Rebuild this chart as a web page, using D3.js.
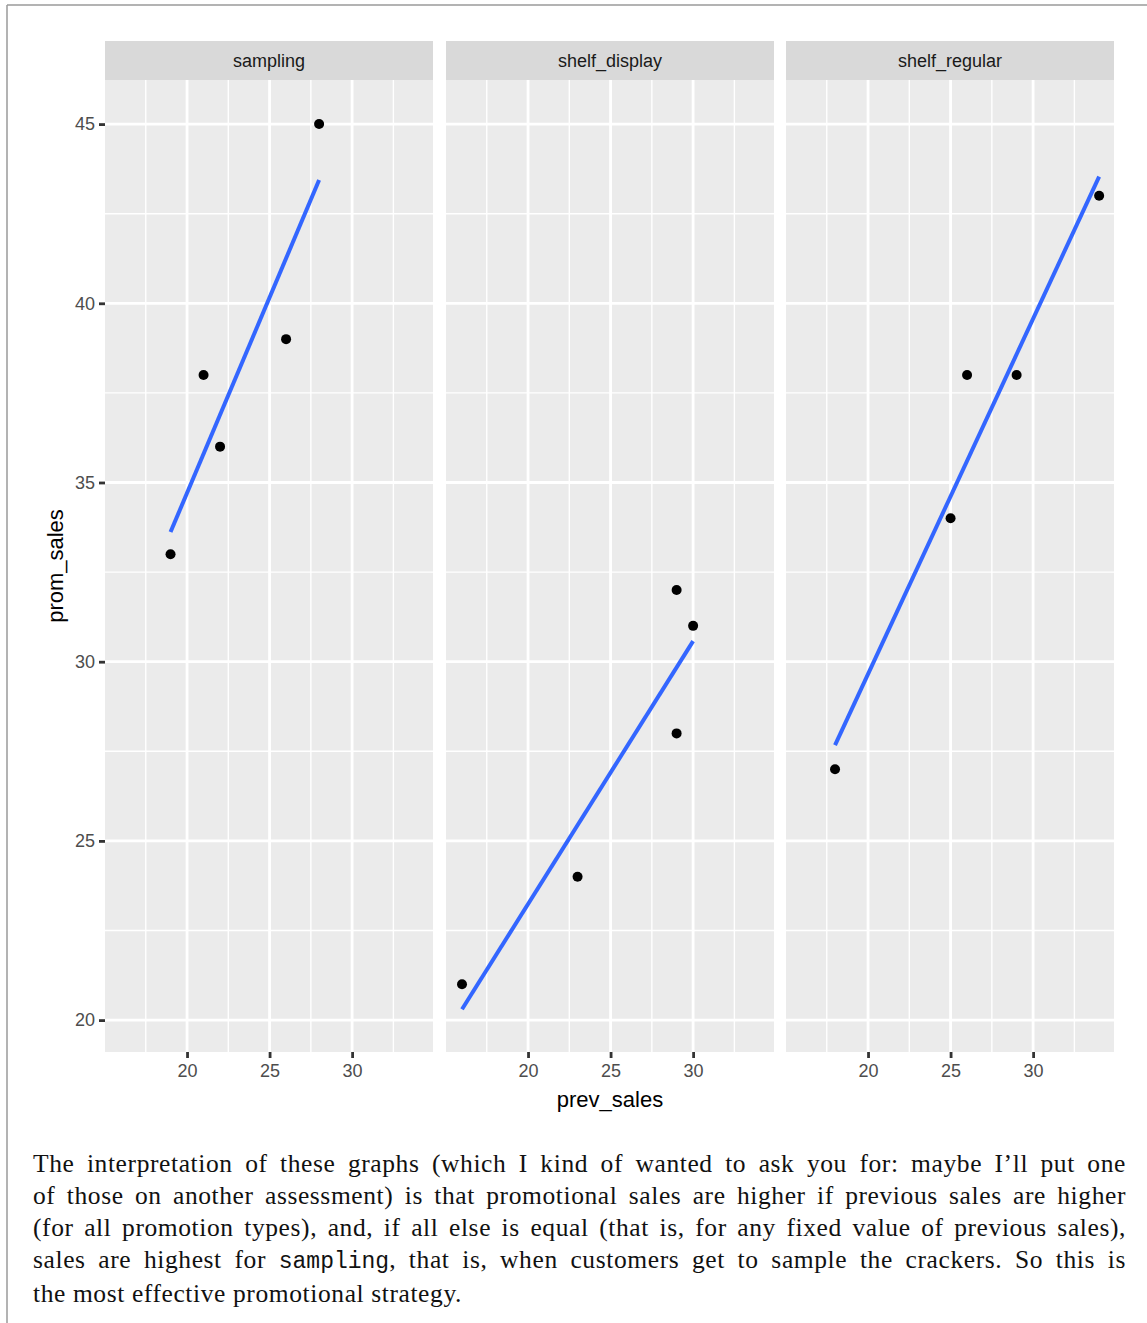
<!DOCTYPE html>
<html>
<head>
<meta charset="utf-8">
<script src="https://cdn.jsdelivr.net/npm/d3@7"></script>
<style>
  html, body { margin: 0; padding: 0; background: #fff; }
  #wrap { position: relative; width: 1147px; height: 1323px; overflow: hidden; }
  svg { position: absolute; left: 0; top: 0; }
  #para { position: absolute; left: 33px; top: 1148px; width: 1093px;
          font-family: "Liberation Serif", "Times New Roman", serif; font-size: 25.5px;
          letter-spacing: 0.6px; line-height: 32px; color: #111; }
  #para div { text-align: justify; text-align-last: justify; white-space: nowrap; }
  #para div.last { text-align-last: left; }
  #para code { font-family: "Liberation Mono", "DejaVu Sans Mono", monospace; font-size: 23px; letter-spacing: 0; }
</style>
</head>
<body>
<div id="wrap">
  <svg id="chart" width="1147" height="1323"></svg>
  <div id="para"></div>
</div>
<script>
// Promotion types (facets)
const promotions = ["sampling", "shelf_display", "shelf_regular"];

// Previous sales and promotional sales for each store, by promotion
const prevSampling = [19, 21, 22, 26, 28];
const promSampling = [33, 38, 36, 39, 45];
const prevDisplay  = [16, 23, 29, 29, 30];
const promDisplay  = [21, 24, 28, 32, 31];
const prevRegular  = [18, 25, 26, 29, 34];
const promRegular  = [27, 34, 38, 38, 43];

// Axis ticks
const xTicks = [20, 25, 30];
const xMinor = [17.5, 22.5, 27.5, 32.5];
const yTicks = [20, 25, 30, 35, 40, 45];
const yMinor = [22.5, 27.5, 32.5, 37.5, 42.5];

const groups = [
  { name: promotions[0], x: prevSampling, y: promSampling },
  { name: promotions[1], x: prevDisplay,  y: promDisplay },
  { name: promotions[2], x: prevRegular,  y: promRegular }
];

// Least-squares fit per group, as geom_smooth(method = "lm")
function lmFit(xs, ys) {
  const mx = d3.mean(xs), my = d3.mean(ys);
  let sxy = 0, sxx = 0;
  xs.forEach((x, i) => { sxy += (x - mx) * (ys[i] - my); sxx += (x - mx) ** 2; });
  const b = sxy / sxx, a = my - b * mx;
  const [x0, x1] = d3.extent(xs);
  return [[x0, a + b * x0], [x1, a + b * x1]];
}

const svg = d3.select("#chart");
const sans = '"Liberation Sans", Arial, Helvetica, sans-serif';

// Page frame
svg.append("line").attr("x1", 7).attr("x2", 1147).attr("y1", 5).attr("y2", 5)
  .attr("stroke", "#9a9a9a").attr("stroke-width", 1.5);
svg.append("line").attr("x1", 7).attr("x2", 7).attr("y1", 5).attr("y2", 1323)
  .attr("stroke", "#9a9a9a").attr("stroke-width", 1.5);

const panelLefts = [105, 446, 786];
const panelW = 328;
const panelTop = 80, panelBottom = 1052;
const stripTop = 41;

const y = d3.scaleLinear().domain([19.11, 46.23]).range([panelBottom, panelTop]);

groups.forEach((g, gi) => {
  const left = panelLefts[gi];
  const x = d3.scaleLinear().domain([15.03, 34.9]).range([left, left + panelW]);
  const p = svg.append("g");

  // panel background
  p.append("rect").attr("x", left).attr("y", panelTop)
    .attr("width", panelW).attr("height", panelBottom - panelTop).attr("fill", "#EBEBEB");

  // minor grid
  p.selectAll(".ymin").data(yMinor).join("line")
    .attr("x1", left).attr("x2", left + panelW)
    .attr("y1", d => y(d)).attr("y2", d => y(d))
    .attr("stroke", "#fff").attr("stroke-width", 1.4);
  p.selectAll(".xmin").data(xMinor).join("line")
    .attr("y1", panelTop).attr("y2", panelBottom)
    .attr("x1", d => x(d)).attr("x2", d => x(d))
    .attr("stroke", "#fff").attr("stroke-width", 1.4);
  // major grid
  p.selectAll(".ymaj").data(yTicks).join("line")
    .attr("x1", left).attr("x2", left + panelW)
    .attr("y1", d => y(d)).attr("y2", d => y(d))
    .attr("stroke", "#fff").attr("stroke-width", 2.8);
  p.selectAll(".xmaj").data(xTicks).join("line")
    .attr("y1", panelTop).attr("y2", panelBottom)
    .attr("x1", d => x(d)).attr("x2", d => x(d))
    .attr("stroke", "#fff").attr("stroke-width", 2.8);

  // strip
  p.append("rect").attr("x", left).attr("y", stripTop)
    .attr("width", panelW).attr("height", panelTop - stripTop).attr("fill", "#D9D9D9");
  p.append("text").attr("x", left + panelW / 2).attr("y", (stripTop + panelTop) / 2)
    .attr("text-anchor", "middle").attr("dominant-baseline", "central")
    .attr("font-family", sans).attr("font-size", 18).attr("fill", "#1A1A1A")
    .text(g.name);

  // fitted line
  const fit = lmFit(g.x, g.y);
  p.append("path")
    .attr("d", d3.line().x(d => x(d[0])).y(d => y(d[1]))(fit))
    .attr("stroke", "#3366FF").attr("stroke-width", 4).attr("fill", "none");

  // points
  p.selectAll("circle").data(g.x.map((v, i) => [v, g.y[i]])).join("circle")
    .attr("cx", d => x(d[0])).attr("cy", d => y(d[1])).attr("r", 5).attr("fill", "#000");

  // x axis
  const xa = svg.append("g").attr("transform", `translate(0,${panelBottom})`)
    .call(d3.axisBottom(x).tickValues(xTicks).tickSize(6).tickPadding(6).tickFormat(d3.format("d")));
  xa.select(".domain").remove();
  xa.selectAll(".tick line").attr("stroke", "#333333").attr("stroke-width", 2.8);
  xa.selectAll(".tick text").attr("font-family", sans).attr("font-size", 18)
    .attr("fill", "#4D4D4D").attr("dy", "0.71em");

  if (gi === 0) {
    const ya = svg.append("g").attr("transform", `translate(${left},0)`)
      .call(d3.axisLeft(y).tickValues(yTicks).tickSize(6).tickPadding(4).tickFormat(d3.format("d")));
    ya.select(".domain").remove();
    ya.selectAll(".tick line").attr("stroke", "#333333").attr("stroke-width", 2.8);
    ya.selectAll(".tick text").attr("font-family", sans).attr("font-size", 18)
      .attr("fill", "#4D4D4D");
  }
});

// axis titles
svg.append("text").attr("x", 610).attr("y", 1107).attr("text-anchor", "middle")
  .attr("font-family", sans).attr("font-size", 22).attr("fill", "#000").text("prev_sales");
svg.append("text").attr("transform", "translate(63,566) rotate(-90)").attr("text-anchor", "middle")
  .attr("font-family", sans).attr("font-size", 22).attr("fill", "#000").text("prom_sales");

// paragraph below the figure
const paraLines = [
  "The interpretation of these graphs (which I kind of wanted to ask you for: maybe I’ll put one",
  "of those on another assessment) is that promotional sales are higher if previous sales are higher",
  "(for all promotion types), and, if all else is equal (that is, for any fixed value of previous sales),",
  "sales are highest for <code>sampling</code>, that is, when customers get to sample the crackers.  So this is",
  "the most effective promotional strategy."
];
d3.select("#para").selectAll("div").data(paraLines).join("div")
  .classed("last", (d, i) => i === paraLines.length - 1)
  .html(d => d);
</script>
</body>
</html>
